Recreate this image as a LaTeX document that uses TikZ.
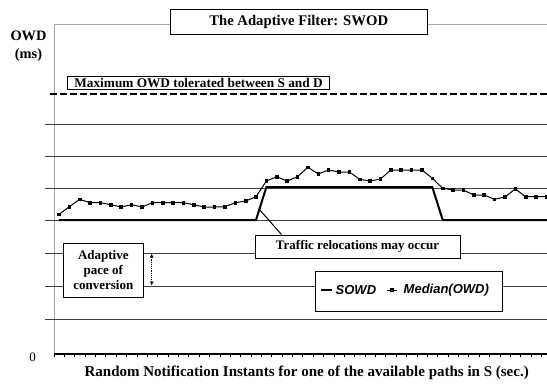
\documentclass[tikz,border=0pt]{standalone}
\usepackage{fontspec}
\setmainfont{Liberation Serif}
\setsansfont{Liberation Sans}
\usetikzlibrary{arrows.meta}
\begin{document}
\begin{tikzpicture}[x=1pt,y=-1pt,
  gridline/.style={line width=1pt,black!75},
  lbl/.style={font=\bfseries\fontsize{13}{15}\selectfont},
  boxed/.style={draw,fill=white,line width=0.8pt,lbl,inner sep=0pt},
  legtxt/.style={font=\sffamily\bfseries\itshape\fontsize{13}{15}\selectfont,inner sep=0pt},
]
\useasboundingbox (0,0) rectangle (547,389);
\begin{scope}
\clip (0,0) rectangle (547,389);
% frame
\draw[gray!70, line width=1pt] (54,354) -- (54,24) -- (560,24);
% gridlines
\foreach \y in {124,156,188,220,253,286,319} \draw[gridline] (45,\y) -- (560,\y);
% maximum tolerated line
\draw[dash pattern=on 7pt off 3pt, line width=1.5pt] (50,94) -- (560,94);
% x axis
\draw[line width=1.2pt] (54,354) -- (560,354);
\foreach \k in {0,...,48} \draw[line width=0.8pt] ({54+10.37*\k},354) -- ++(0,3);
% SOWD
\coordinate (r1) at (256,220);
\coordinate (r2) at (266.4,187);
\coordinate (relpt) at (259,209);
\draw[line width=2pt] (59,220) -- (r1) -- (r2) -- (432.3,187) -- (442.7,220) -- (560,220);
% Median(OWD)
\draw[line width=1pt] plot coordinates {(59,214.3) (69.4,206.7) (79.7,199.3) (90.1,202.7) (100.5,202.7) (110.9,204.7)
(121.2,207) (131.6,204.7) (142,207) (152.3,202.7) (162.7,202.7) (173.1,202.7)
(183.4,202.7) (193.8,204.7) (204.2,207) (214.6,207) (224.9,206.7) (235.3,202.7)
(245.7,201) (256,196.7) (266.4,181) (276.8,176.7) (287.1,181) (297.5,176.7)
(307.9,167.3) (318.3,174) (328.6,170) (339,172) (349.4,172) (359.7,179.3)
(370.1,181) (380.5,179) (390.8,170) (401.2,170) (411.6,170) (422,170)
(432.3,178.3) (442.7,188.3) (453.1,190) (463.4,190) (473.8,195) (484.2,195)
(494.5,199.3) (504.9,197) (515.3,189) (525.7,196.7) (536,196.7) (546.4,196.7)};
\foreach \px/\py in {59/214.3, 69.4/206.7, 79.7/199.3, 90.1/202.7, 100.5/202.7, 110.9/204.7,
121.2/207, 131.6/204.7, 142/207, 152.3/202.7, 162.7/202.7, 173.1/202.7,
183.4/202.7, 193.8/204.7, 204.2/207, 214.6/207, 224.9/206.7, 235.3/202.7,
245.7/201, 256/196.7, 266.4/181, 276.8/176.7, 287.1/181, 297.5/176.7,
307.9/167.3, 318.3/174, 328.6/170, 339/172, 349.4/172, 359.7/179.3,
370.1/181, 380.5/179, 390.8/170, 401.2/170, 411.6/170, 422/170,
432.3/178.3, 442.7/188.3, 453.1/190, 463.4/190, 473.8/195, 484.2/195,
494.5/199.3, 504.9/197, 515.3/189, 525.7/196.7, 536/196.7, 546.4/196.7}
  \fill ({\px-1.8},{\py-1.8}) rectangle ({\px+1.8},{\py+1.8});
\end{scope}
% boxes
\node[boxed, font=\bfseries\fontsize{14.7}{16}\selectfont, minimum width=257pt, minimum height=25pt] (title) at (298.7,21.8) {The Adaptive Filter: SWOD};
\node[boxed, font=\bfseries\fontsize{13.3}{15}\selectfont, minimum width=261.6pt, minimum height=13.5pt] (maxbox) at (198.5,82.7) {Maximum OWD tolerated between S and D};
\node[boxed, minimum width=205pt, minimum height=23.3pt] (traffic) at (357.5,246.7) {Traffic relocations may occur};
\node[boxed, minimum width=80pt, minimum height=54pt, align=center] (adaptive) at (103.3,270.3) {Adaptive\\pace of\\conversion};
\node[draw, fill=white, line width=0.8pt, minimum width=187.7pt, minimum height=40pt] (legend) at (408.8,291.7) {};
\draw[line width=1pt] (relpt) -- ([xshift=27pt]traffic.north west);
% pace arrow
\coordinate (pa) at (151.7,253.5);
\coordinate (pb) at (151.7,285.5);
\draw[dash pattern=on 1.2pt off 1pt, line width=1.5pt, {Latex[length=4pt,width=4pt]}-{Latex[length=4pt,width=4pt]}] (pa) -- (pb);
% legend contents
\coordinate (l1a) at (321,290);
\coordinate (l1b) at (332.3,290);
\draw[line width=2.5pt] (l1a) -- (l1b);
\node[legtxt, anchor=west] (sowdtxt) at (335.5,290.5) {SOWD};
\coordinate (l2a) at (386.7,290);
\coordinate (l2b) at (397.3,290);
\draw[line width=1pt] (l2a) -- (l2b);
\fill (390.2,288.2) rectangle (393.8,291.8);
\node[legtxt, anchor=west] (medtxt) at (403.5,290.5) {Median(OWD)};
% labels
\node[align=center, font=\bfseries\fontsize{14.4}{18}\selectfont] (ylab) at (28.5,46) {OWD\\(ms)};
\node[font=\fontsize{13}{15}\selectfont] (zero) at (32.5,357.5) {0};
\node[font=\bfseries\fontsize{15}{17}\selectfont] (xlab) at (306.7,373.3) {Random Notification Instants for one of the available paths in S (sec.)};
\end{tikzpicture}
\end{document}
